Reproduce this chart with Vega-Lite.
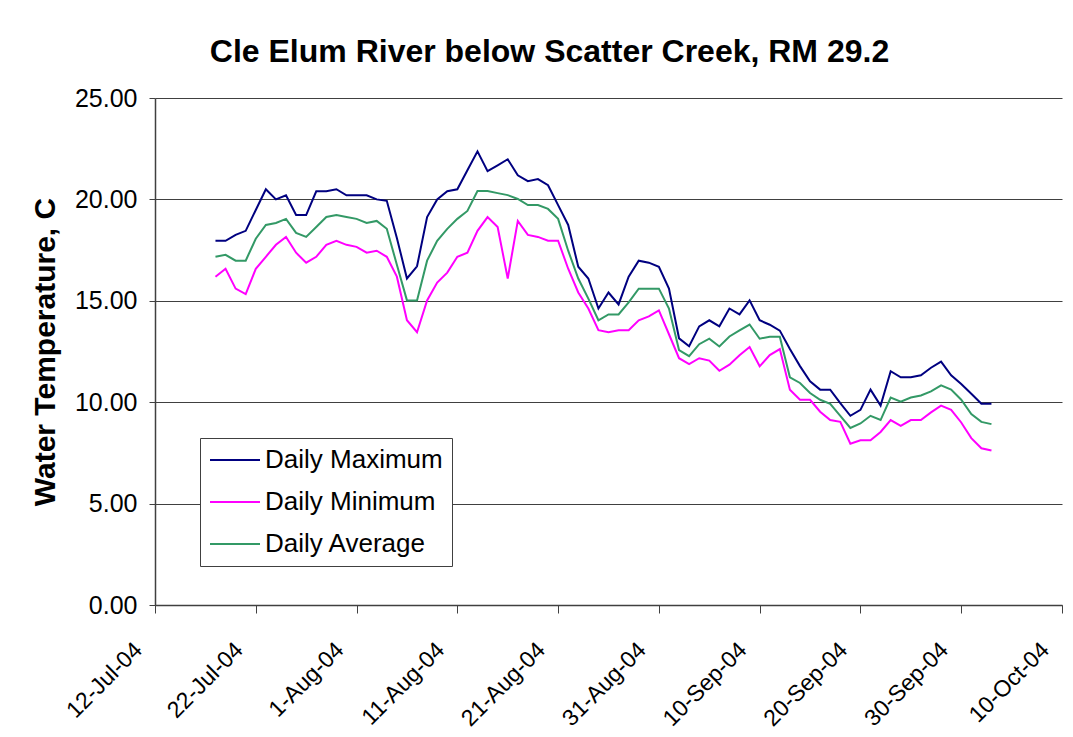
{
  "$schema": "https://vega.github.io/schema/vega-lite/v6.json",
  "autosize": "none",
  "width": 907,
  "height": 507,
  "padding": {"left": 155, "top": 98, "right": 11, "bottom": 132},
  "background": "white",
  "title": {
    "text": "Cle Elum River below Scatter Creek, RM 29.2",
    "font": "Liberation Sans",
    "fontSize": 32,
    "fontWeight": "bold",
    "color": "black",
    "frame": "group",
    "anchor": "middle",
    "dx": -59,
    "offset": 17
  },
  "data": {
    "values": [
      {"date": "2004-07-18", "Daily Maximum": 17.96, "Daily Minimum": 16.19, "Daily Average": 17.17},
      {"date": "2004-07-19", "Daily Maximum": 17.96, "Daily Minimum": 16.58, "Daily Average": 17.27},
      {"date": "2004-07-20", "Daily Maximum": 18.25, "Daily Minimum": 15.6, "Daily Average": 16.98},
      {"date": "2004-07-21", "Daily Maximum": 18.45, "Daily Minimum": 15.33, "Daily Average": 16.98},
      {"date": "2004-07-22", "Daily Maximum": 19.48, "Daily Minimum": 16.58, "Daily Average": 18.06},
      {"date": "2004-07-23", "Daily Maximum": 20.5, "Daily Minimum": 17.17, "Daily Average": 18.74},
      {"date": "2004-07-24", "Daily Maximum": 20.0, "Daily Minimum": 17.76, "Daily Average": 18.84},
      {"date": "2004-07-25", "Daily Maximum": 20.2, "Daily Minimum": 18.15, "Daily Average": 19.04},
      {"date": "2004-07-26", "Daily Maximum": 19.23, "Daily Minimum": 17.37, "Daily Average": 18.35},
      {"date": "2004-07-27", "Daily Maximum": 19.23, "Daily Minimum": 16.88, "Daily Average": 18.15},
      {"date": "2004-07-28", "Daily Maximum": 20.4, "Daily Minimum": 17.17, "Daily Average": 18.64},
      {"date": "2004-07-29", "Daily Maximum": 20.4, "Daily Minimum": 17.76, "Daily Average": 19.13},
      {"date": "2004-07-30", "Daily Maximum": 20.5, "Daily Minimum": 17.96, "Daily Average": 19.23},
      {"date": "2004-07-31", "Daily Maximum": 20.2, "Daily Minimum": 17.76, "Daily Average": 19.13},
      {"date": "2004-08-01", "Daily Maximum": 20.2, "Daily Minimum": 17.66, "Daily Average": 19.04},
      {"date": "2004-08-02", "Daily Maximum": 20.2, "Daily Minimum": 17.37, "Daily Average": 18.84},
      {"date": "2004-08-03", "Daily Maximum": 20.0, "Daily Minimum": 17.47, "Daily Average": 18.94},
      {"date": "2004-08-04", "Daily Maximum": 19.93, "Daily Minimum": 17.17, "Daily Average": 18.55},
      {"date": "2004-08-05", "Daily Maximum": 18.1, "Daily Minimum": 16.19, "Daily Average": 16.78},
      {"date": "2004-08-06", "Daily Maximum": 16.1, "Daily Minimum": 14.04, "Daily Average": 15.02},
      {"date": "2004-08-07", "Daily Maximum": 16.7, "Daily Minimum": 13.45, "Daily Average": 15.02},
      {"date": "2004-08-08", "Daily Maximum": 19.13, "Daily Minimum": 15.02, "Daily Average": 16.98},
      {"date": "2004-08-09", "Daily Maximum": 20.0, "Daily Minimum": 15.9, "Daily Average": 17.96},
      {"date": "2004-08-10", "Daily Maximum": 20.4, "Daily Minimum": 16.39, "Daily Average": 18.55},
      {"date": "2004-08-11", "Daily Maximum": 20.5, "Daily Minimum": 17.17, "Daily Average": 19.04},
      {"date": "2004-08-12", "Daily Maximum": 21.44, "Daily Minimum": 17.37, "Daily Average": 19.43},
      {"date": "2004-08-13", "Daily Maximum": 22.37, "Daily Minimum": 18.45, "Daily Average": 20.41},
      {"date": "2004-08-14", "Daily Maximum": 21.39, "Daily Minimum": 19.13, "Daily Average": 20.41},
      {"date": "2004-08-15", "Daily Maximum": 21.68, "Daily Minimum": 18.64, "Daily Average": 20.31},
      {"date": "2004-08-16", "Daily Maximum": 21.98, "Daily Minimum": 16.1, "Daily Average": 20.21},
      {"date": "2004-08-17", "Daily Maximum": 21.19, "Daily Minimum": 18.94, "Daily Average": 20.02},
      {"date": "2004-08-18", "Daily Maximum": 20.9, "Daily Minimum": 18.25, "Daily Average": 19.72},
      {"date": "2004-08-19", "Daily Maximum": 21.0, "Daily Minimum": 18.15, "Daily Average": 19.72},
      {"date": "2004-08-20", "Daily Maximum": 20.7, "Daily Minimum": 17.96, "Daily Average": 19.53},
      {"date": "2004-08-21", "Daily Maximum": 19.72, "Daily Minimum": 17.96, "Daily Average": 19.04},
      {"date": "2004-08-22", "Daily Maximum": 18.74, "Daily Minimum": 16.58, "Daily Average": 17.47},
      {"date": "2004-08-23", "Daily Maximum": 16.68, "Daily Minimum": 15.41, "Daily Average": 16.1},
      {"date": "2004-08-24", "Daily Maximum": 16.1, "Daily Minimum": 14.62, "Daily Average": 15.11},
      {"date": "2004-08-25", "Daily Maximum": 14.62, "Daily Minimum": 13.55, "Daily Average": 14.04},
      {"date": "2004-08-26", "Daily Maximum": 15.41, "Daily Minimum": 13.45, "Daily Average": 14.33},
      {"date": "2004-08-27", "Daily Maximum": 14.82, "Daily Minimum": 13.55, "Daily Average": 14.33},
      {"date": "2004-08-28", "Daily Maximum": 16.19, "Daily Minimum": 13.55, "Daily Average": 14.92},
      {"date": "2004-08-29", "Daily Maximum": 16.98, "Daily Minimum": 14.04, "Daily Average": 15.6},
      {"date": "2004-08-30", "Daily Maximum": 16.88, "Daily Minimum": 14.23, "Daily Average": 15.6},
      {"date": "2004-08-31", "Daily Maximum": 16.68, "Daily Minimum": 14.53, "Daily Average": 15.6},
      {"date": "2004-09-01", "Daily Maximum": 15.6, "Daily Minimum": 13.35, "Daily Average": 14.62},
      {"date": "2004-09-02", "Daily Maximum": 13.15, "Daily Minimum": 12.17, "Daily Average": 12.57},
      {"date": "2004-09-03", "Daily Maximum": 12.76, "Daily Minimum": 11.88, "Daily Average": 12.27},
      {"date": "2004-09-04", "Daily Maximum": 13.74, "Daily Minimum": 12.17, "Daily Average": 12.86},
      {"date": "2004-09-05", "Daily Maximum": 14.04, "Daily Minimum": 12.05, "Daily Average": 13.13},
      {"date": "2004-09-06", "Daily Maximum": 13.74, "Daily Minimum": 11.55, "Daily Average": 12.75},
      {"date": "2004-09-07", "Daily Maximum": 14.62, "Daily Minimum": 11.85, "Daily Average": 13.24},
      {"date": "2004-09-08", "Daily Maximum": 14.33, "Daily Minimum": 12.32, "Daily Average": 13.54},
      {"date": "2004-09-09", "Daily Maximum": 15.02, "Daily Minimum": 12.72, "Daily Average": 13.83},
      {"date": "2004-09-10", "Daily Maximum": 14.04, "Daily Minimum": 11.77, "Daily Average": 13.13},
      {"date": "2004-09-11", "Daily Maximum": 13.82, "Daily Minimum": 12.32, "Daily Average": 13.23},
      {"date": "2004-09-12", "Daily Maximum": 13.53, "Daily Minimum": 12.62, "Daily Average": 13.23},
      {"date": "2004-09-13", "Daily Maximum": 12.62, "Daily Minimum": 10.62, "Daily Average": 11.23},
      {"date": "2004-09-14", "Daily Maximum": 11.78, "Daily Minimum": 10.12, "Daily Average": 10.95},
      {"date": "2004-09-15", "Daily Maximum": 11.03, "Daily Minimum": 10.12, "Daily Average": 10.45},
      {"date": "2004-09-16", "Daily Maximum": 10.62, "Daily Minimum": 9.53, "Daily Average": 10.12},
      {"date": "2004-09-17", "Daily Maximum": 10.62, "Daily Minimum": 9.12, "Daily Average": 9.92},
      {"date": "2004-09-18", "Daily Maximum": 9.95, "Daily Minimum": 9.03, "Daily Average": 9.33},
      {"date": "2004-09-19", "Daily Maximum": 9.33, "Daily Minimum": 7.95, "Daily Average": 8.73},
      {"date": "2004-09-20", "Daily Maximum": 9.62, "Daily Minimum": 8.12, "Daily Average": 8.95},
      {"date": "2004-09-21", "Daily Maximum": 10.62, "Daily Minimum": 8.12, "Daily Average": 9.33},
      {"date": "2004-09-22", "Daily Maximum": 9.83, "Daily Minimum": 8.53, "Daily Average": 9.12},
      {"date": "2004-09-23", "Daily Maximum": 11.53, "Daily Minimum": 9.12, "Daily Average": 10.23},
      {"date": "2004-09-24", "Daily Maximum": 11.23, "Daily Minimum": 8.83, "Daily Average": 10.03},
      {"date": "2004-09-25", "Daily Maximum": 11.23, "Daily Minimum": 9.12, "Daily Average": 10.23},
      {"date": "2004-09-26", "Daily Maximum": 11.33, "Daily Minimum": 9.12, "Daily Average": 10.33},
      {"date": "2004-09-27", "Daily Maximum": 11.7, "Daily Minimum": 9.5, "Daily Average": 10.53},
      {"date": "2004-09-28", "Daily Maximum": 12.0, "Daily Minimum": 9.83, "Daily Average": 10.83},
      {"date": "2004-09-29", "Daily Maximum": 11.33, "Daily Minimum": 9.62, "Daily Average": 10.62},
      {"date": "2004-09-30", "Daily Maximum": 10.9, "Daily Minimum": 9.0, "Daily Average": 10.12},
      {"date": "2004-10-01", "Daily Maximum": 10.42, "Daily Minimum": 8.23, "Daily Average": 9.42},
      {"date": "2004-10-02", "Daily Maximum": 9.92, "Daily Minimum": 7.73, "Daily Average": 9.03},
      {"date": "2004-10-03", "Daily Maximum": 9.92, "Daily Minimum": 7.62, "Daily Average": 8.92}
    ]
  },
  "transform": [
    {"fold": ["Daily Maximum", "Daily Minimum", "Daily Average"], "as": ["series", "temp"]}
  ],
  "mark": {"type": "line", "strokeWidth": 2, "clip": false},
  "encoding": {
    "x": {
      "field": "date",
      "type": "temporal",
      "scale": {
        "type": "utc",
        "domain": [
          {"year": 2004, "month": 7, "date": 12, "utc": true},
          {"year": 2004, "month": 10, "date": 10, "utc": true}
        ]
      },
      "axis": {
        "values": [
          {"year": 2004, "month": 7, "date": 12, "utc": true},
          {"year": 2004, "month": 7, "date": 22, "utc": true},
          {"year": 2004, "month": 8, "date": 1, "utc": true},
          {"year": 2004, "month": 8, "date": 11, "utc": true},
          {"year": 2004, "month": 8, "date": 21, "utc": true},
          {"year": 2004, "month": 8, "date": 31, "utc": true},
          {"year": 2004, "month": 9, "date": 10, "utc": true},
          {"year": 2004, "month": 9, "date": 20, "utc": true},
          {"year": 2004, "month": 9, "date": 30, "utc": true},
          {"year": 2004, "month": 10, "date": 10, "utc": true}
        ],
        "labelExpr": "utcFormat(datum.value, '%-d-%b-%y')",
        "title": null,
        "grid": false,
        "labelAngle": -45,
        "labelAlign": "right",
        "labelBaseline": "middle",
        "labelFont": "Liberation Sans",
        "labelFontSize": 23,
        "labelColor": "black",
        "labelPadding": 33,
        "labelOffset": -17,
        "labelOverlap": false,
        "labelBound": false,
        "labelFlush": false,
        "tickSize": 8,
        "tickColor": "#404040",
        "domainColor": "#404040",
        "domainWidth": 1.5
      }
    },
    "y": {
      "field": "temp",
      "type": "quantitative",
      "scale": {"domain": [0, 25], "nice": false, "zero": true},
      "axis": {
        "values": [0, 5, 10, 15, 20, 25],
        "format": ".2f",
        "title": "Water Temperature, C",
        "titleFont": "Liberation Sans",
        "titleFontSize": 30,
        "titleFontWeight": "bold",
        "titleColor": "black",
        "titlePadding": 14,
        "labelFont": "Liberation Sans",
        "labelFontSize": 25,
        "labelColor": "black",
        "labelPadding": 12,
        "tickSize": 6,
        "tickColor": "#404040",
        "domainColor": "#404040",
        "domainWidth": 1.5,
        "grid": true,
        "gridColor": "#404040",
        "gridWidth": 1
      }
    },
    "color": {
      "field": "series",
      "type": "nominal",
      "sort": ["Daily Maximum", "Daily Minimum", "Daily Average"],
      "scale": {
        "domain": ["Daily Maximum", "Daily Minimum", "Daily Average"],
        "range": ["#000080", "#FF00FF", "#339966"]
      },
      "legend": {
        "title": null,
        "orient": "none",
        "legendX": 45,
        "legendY": 340,
        "symbolType": "stroke",
        "symbolSize": 2500,
        "symbolStrokeWidth": 2,
        "clipHeight": 26,
        "labelFont": "Liberation Sans",
        "labelFontSize": 26,
        "labelColor": "black",
        "labelOffset": 4,
        "rowPadding": 16,
        "padding": 9,
        "strokeColor": "#404040",
        "fillColor": "white",
        "labelLimit": 300
      }
    }
  },
  "config": {
    "view": {"stroke": null}
  }
}
